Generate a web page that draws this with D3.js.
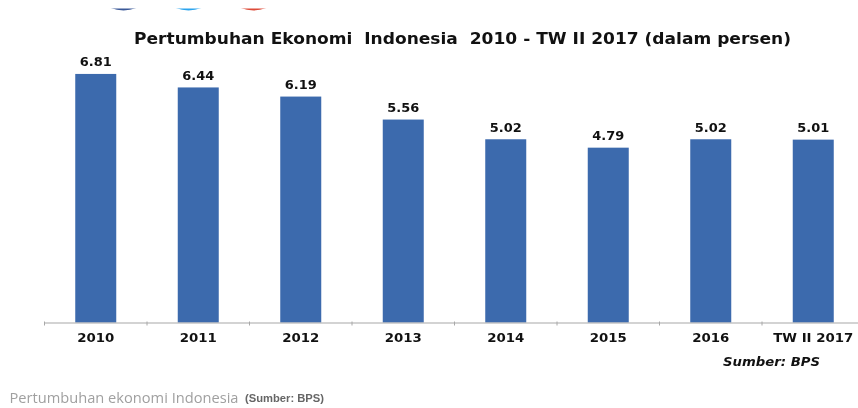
<!DOCTYPE html>
<html lang="id">
<head>
<meta charset="utf-8">
<script src="https://d3js.org/d3.v7.min.js"></script>
<title>Pertumbuhan Ekonomi Indonesia</title>
<style>
    html, body { margin:0; padding:0; background:#fff; }
    svg { display:block; filter:blur(0.4px); }
    text { white-space:pre; }
    .chart text { font-family:"DejaVu Sans"; font-weight:bold; fill:#111; }
</style>
</head>
<body>
<svg id="chart" class="chart" width="858" height="408"></svg>
<script>
    const years = ["2010","2011","2012","2013","2014","2015","2016","TW II 2017"];
    const growth = [6.81,6.44,6.19,5.56,5.02,4.79,5.02,5.01];
    const logoColors = ["#3b5998","#2ba4ee","#dd4b39"];

    const svg = d3.select("#chart");

    const x = d3.scaleBand().domain(years).range([44.5,864.5]).paddingInner(0.6).paddingOuter(0.3);
    const y = d3.scaleLinear().domain([0,7]).range([322.5,67]);

    // the picture is stretched sideways, so widen the text the same way
    function stretch(sel,k) {
        sel.each(function() {
            d3.select(this)
              .attr("textLength",this.getComputedTextLength()*k)
              .attr("lengthAdjust","spacingAndGlyphs");
        });
    }

    // bits of the share buttons left over at the top of the screenshot
    svg.append("clipPath").attr("id","logoclip")
       .append("rect").attr("x",0).attr("y",8.5).attr("width",858).attr("height",10);
    const logoX = d3.scalePoint().domain(logoColors).range([123.5,253.5]);
    svg.append("g").attr("clip-path","url(#logoclip)")
       .selectAll("circle")
       .data(logoColors)
       .join("circle")
       .attr("cx",d=>logoX(d))
       .attr("cy",-23.5)
       .attr("r",34)
       .attr("fill",d=>d);

    svg.append("text")
       .attr("x",134)
       .attr("y",44)
       .attr("font-size",15)
       .attr("textLength",657)
       .attr("lengthAdjust","spacingAndGlyphs")
       .text("Pertumbuhan Ekonomi  Indonesia  2010 - TW II 2017 (dalam persen)");

    svg.selectAll("rect.bar")
       .data(growth)
       .join("rect")
       .attr("class","bar")
       .attr("x",(d,i)=>x(years[i]))
       .attr("y",d=>y(d))
       .attr("width",x.bandwidth())
       .attr("height",d=>y(0)-y(d))
       .attr("fill","#3c6aad");

    svg.selectAll("text.val")
       .data(growth)
       .join("text")
       .attr("class","val")
       .attr("x",(d,i)=>x(years[i])+x.bandwidth()/2)
       .attr("y",d=>y(d)-7.5)
       .attr("text-anchor","middle")
       .attr("font-size",12)
       .text(d=>d.toFixed(2))
       .call(stretch,1.08);

    const axis = svg.append("g")
       .attr("transform",`translate(0,${y(0)})`)
       .call(d3.axisBottom(x).tickSize(0).tickPadding(10.7));
    axis.select(".domain").attr("stroke","#a8a8a8").attr("stroke-width",1.2);
    axis.selectAll(".tick text")
       .attr("font-size",12)
       .attr("font-family","DejaVu Sans")
       .attr("fill","#111")
       .call(stretch,1.11);

    // tick marks sit between the categories
    axis.selectAll("line.sep")
       .data(years)
       .join("line")
       .attr("class","sep")
       .attr("x1",d=>x(d)-x.step()*0.3)
       .attr("x2",d=>x(d)-x.step()*0.3)
       .attr("y1",-1)
       .attr("y2",3)
       .attr("stroke","#a8a8a8");

    svg.append("text")
       .attr("x",723)
       .attr("y",365.5)
       .attr("font-size",12.5)
       .attr("font-style","italic")
       .attr("textLength",97)
       .attr("lengthAdjust","spacingAndGlyphs")
       .text("Sumber: BPS");

    svg.append("text")
       .attr("x",9.5)
       .attr("y",402.5)
       .attr("font-size",14)
       .attr("textLength",229)
       .attr("lengthAdjust","spacingAndGlyphs")
       .style("font-family","Open Sans")
       .style("font-weight","normal")
       .style("fill","#a0a0a0")
       .text("Pertumbuhan ekonomi Indonesia");

    svg.append("text")
       .attr("x",245)
       .attr("y",402)
       .attr("font-size",10.5)
       .attr("textLength",79)
       .attr("lengthAdjust","spacingAndGlyphs")
       .style("font-family","Liberation Sans")
       .style("font-weight","bold")
       .style("fill","#666")
       .text("(Sumber: BPS)");
</script>
</body>
</html>
